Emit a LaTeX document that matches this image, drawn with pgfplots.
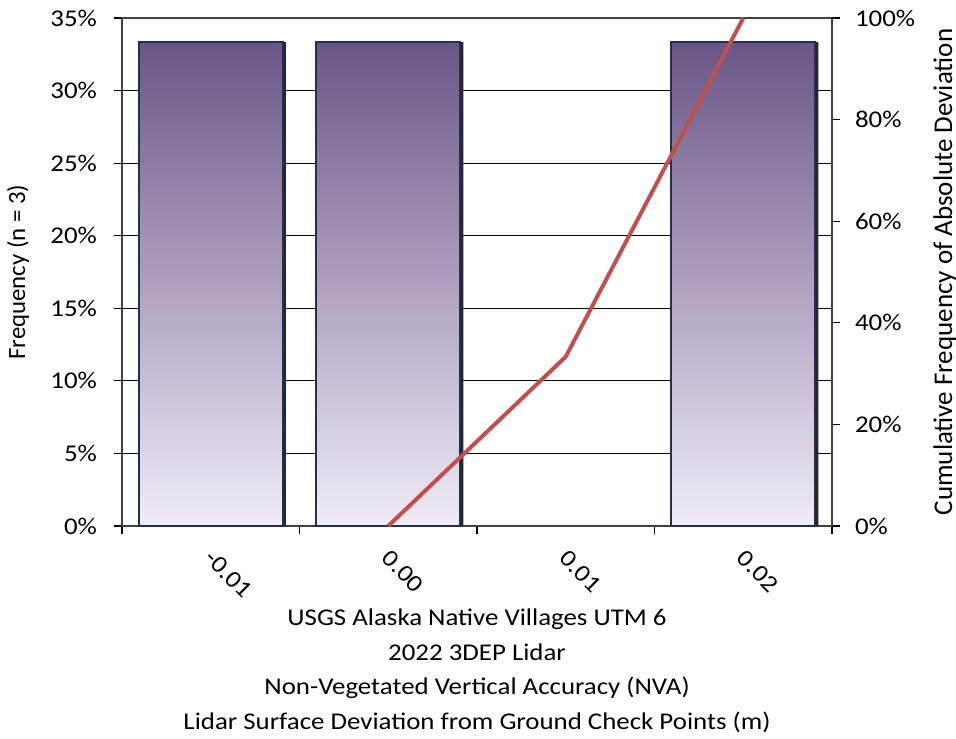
\documentclass[border=0pt]{standalone}
\usepackage{pgfplots}
\pgfplotsset{compat=1.18}
\usepackage{fontspec}
\setmainfont{Carlito}
\newfontfamily\wide[FakeStretch=1.12]{Carlito}
\definecolor{barTop}{HTML}{6A5686}
\definecolor{barBot}{HTML}{F1ECF8}
\definecolor{barEdge}{HTML}{1F3050}
\definecolor{cumLine}{HTML}{C0504D}
\pgfplotsset{
  common/.style={
    scale only axis, width=355pt, height=254pt,
    xmin=-0.5, xmax=3.5,
    tick align=outside, major tick length=4pt, minor tick length=4pt,
    /pgf/number format/assume math mode=true,
    tick style={black, line width=0.6pt},
    axis line style={black!75, line width=0.8pt},
    every tick label/.append style={font=\wide\fontsize{12}{14}\selectfont},
  }
}
\begin{document}
\begin{tikzpicture}
\begin{axis}[
  common,
  ymin=0, ymax=35,
  ytick={0,5,...,35},
  yticklabel={\pgfmathprintnumber{\tick}\%},
  ymajorgrids, grid style={black, line width=0.6pt},
  tick pos=left,
  yticklabel style={xshift=-5pt},
  xtick={0,1,2,3},
  xticklabels={-0.01,0.00,0.01,0.02},
  minor xtick={-0.5,0.5,1.5,2.5,3.5},
  major x tick style={draw=none},
  xticklabel style={rotate=-45, anchor=north west, xshift=3pt, yshift=-0.5pt},
  ylabel={Frequency (n = 3)},
  ylabel style={font=\fontsize{12.4}{14}\selectfont,
    at={(axis description cs:-0.1465,0.5)}, anchor=center},
  xlabel={USGS Alaska Native Villages UTM 6\\2022 3DEP Lidar\\Non-Vegetated Vertical Accuracy (NVA)\\Lidar Surface Deviation from Ground Check Points (m)},
  xlabel style={font=\wide\fontsize{12}{17.3}\selectfont, align=center,
    at={(axis description cs:0.5,-0.2854)}, anchor=center},
]
\addplot[ybar, bar width=72pt, bar shift=1.6pt, fill=black!85, draw=none]
  coordinates {(0,33.333)(1,33.333)(3,33.333)};
\addplot[ybar, bar width=72pt, draw=barEdge, line width=1pt,
  top color=barTop, bottom color=barBot]
  coordinates {(0,33.333)(1,33.333)(3,33.333)};
\end{axis}
\begin{axis}[
  common,
  ymin=0, ymax=100,
  axis y line*=right, axis x line=none,
  ytick={0,20,...,100},
  yticklabel={\pgfmathprintnumber{\tick}\%},
  yticklabel style={xshift=4pt},
  ylabel={Cumulative Frequency of Absolute Deviation},
  ylabel style={font=\fontsize{13.5}{16}\selectfont,
    at={(axis description cs:1.159,0.5)}, anchor=center},
]
\addplot[cumLine, line width=2pt] coordinates {(1,0)(2,33.333)(3,100)};
\end{axis}
\path (current axis.south west) ++(-61pt,-106pt) coordinate (bbBL);
\path (current axis.north east) ++(62pt,9pt) coordinate (bbTR);
\pgfresetboundingbox
\path[use as bounding box] (bbBL) rectangle (bbTR);
\end{tikzpicture}
\end{document}
